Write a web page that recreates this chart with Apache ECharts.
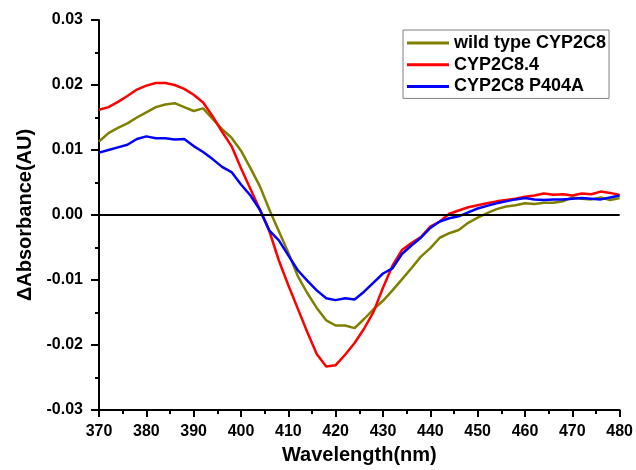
<!DOCTYPE html>
<html>
<head>
<meta charset="utf-8">
<script src="https://cdn.jsdelivr.net/npm/echarts@6/dist/echarts.min.js"></script>
<style>
html,body{margin:0;padding:0;background:#fff;}
#c{width:636px;height:470px;}
</style>
</head>
<body>
<div id="c"></div>
<script>
var wavelengths = [370,372,374,376,378,380,382,384,386,388,390,392,394,396,398,400,402,404,406,408,410,412,414,416,418,420,422,424,426,428,430,432,434,436,438,440,442,444,446,448,450,452,454,456,458,460,462,464,466,468,470,472,474,476,478,480];

var wildType = [0.0113,0.0126,0.0134,0.0141,0.0150,0.0158,0.0166,0.0170,0.0172,0.0166,0.0160,0.0164,0.0148,0.0132,0.0119,0.0099,0.0072,0.0044,0.0008,-0.0025,-0.0058,-0.0094,-0.0120,-0.0143,-0.0162,-0.0170,-0.0170,-0.0174,-0.0160,-0.0145,-0.0132,-0.0116,-0.0099,-0.0082,-0.0064,-0.0051,-0.0035,-0.0028,-0.0023,-0.0012,-0.0004,0.0003,0.0009,0.0013,0.0015,0.0018,0.0017,0.0019,0.0019,0.0021,0.0027,0.0025,0.0024,0.0027,0.0023,0.0026];

var cyp2c84 = [0.0162,0.0166,0.0174,0.0183,0.0193,0.0199,0.0203,0.0203,0.0200,0.0194,0.0185,0.0173,0.0152,0.0128,0.0106,0.0072,0.0040,0.0008,-0.0025,-0.0070,-0.0108,-0.0144,-0.0180,-0.0214,-0.0233,-0.0231,-0.0215,-0.0197,-0.0175,-0.0149,-0.0112,-0.0078,-0.0054,-0.0043,-0.0034,-0.0018,-0.0010,0.0002,0.0007,0.0012,0.0015,0.0018,0.0021,0.0023,0.0025,0.0028,0.0030,0.0033,0.0031,0.0032,0.0030,0.0033,0.0032,0.0036,0.0034,0.0031];

var p404a = [0.0096,0.0100,0.0104,0.0108,0.0117,0.0121,0.0118,0.0118,0.0116,0.0117,0.0106,0.0097,0.0086,0.0074,0.0066,0.0047,0.0030,0.0008,-0.0024,-0.0039,-0.0062,-0.0085,-0.0101,-0.0116,-0.0128,-0.0131,-0.0128,-0.0130,-0.0118,-0.0104,-0.0090,-0.0082,-0.0060,-0.0047,-0.0035,-0.0020,-0.0010,-0.0005,-0.0002,0.0004,0.0010,0.0014,0.0018,0.0021,0.0024,0.0026,0.0024,0.0023,0.0024,0.0024,0.0025,0.0026,0.0025,0.0024,0.0027,0.0030];

var seriesNames = ['wild type CYP2C8','CYP2C8.4','CYP2C8 P404A'];
var seriesColors = ['#808000','#ff0000','#0000ff'];
var xTitle = 'Wavelength(nm)';
var yTitle = '\u0394Absorbance(AU)';

function pairs(ys){ return wavelengths.map(function(x,i){ return [x, ys[i]]; }); }

var FONT = "'Liberation Sans', Arial, sans-serif";
var chart = echarts.init(document.getElementById('c'), null, {renderer:'canvas'});
var axisCommon = {
  axisLine:{show:true,onZero:false,lineStyle:{color:'#000',width:2}},
  splitLine:{show:false},
  minorTick:{show:true,splitNumber:2,length:4,lineStyle:{color:'#000',width:2}},
  nameLocation:'middle',
  nameTextStyle:{color:'#000',fontWeight:'bold',fontFamily:FONT,fontSize:20}
};
var dataSets = [wildType, cyp2c84, p404a];
var series = dataSets.map(function(d,i){
  var s = {
    name: seriesNames[i], type:'line', data: pairs(d), showSymbol:false, symbol:'none',
    smooth:false, lineStyle:{color:seriesColors[i],width:2.5}, itemStyle:{color:seriesColors[i]},
    animation:false, z: 2+i
  };
  return s;
});
series.push({
  type:'line', data:[], silent:true, animation:false, z:10,
  markLine:{silent:true,symbol:['none','none'],label:{show:false},
    lineStyle:{color:'#000',width:2,type:'solid'},
    data:[{yAxis:0}], animation:false}
});
chart.setOption({
  animation:false,
  backgroundColor:'#fff',
  grid:{left:99,right:13,top:20,bottom:60,containLabel:false},
  xAxis: Object.assign({}, axisCommon, {
    type:'value', min:370, max:480, interval:10,
    name:xTitle, nameGap:35,
    axisTick:{show:true,length:7,inside:false,lineStyle:{color:'#000',width:2}},
    axisLabel:{color:'#000',fontWeight:'bold',fontFamily:FONT,fontSize:16,margin:14}
  }),
  yAxis: Object.assign({}, axisCommon, {
    type:'value', min:-0.03, max:0.03, interval:0.01,
    name:yTitle, nameGap:62,
    axisTick:{show:true,length:8,inside:false,lineStyle:{color:'#000',width:2}},
    axisLabel:{color:'#000',fontWeight:'bold',fontFamily:FONT,fontSize:16,margin:16,
      formatter:function(v){ if(Math.abs(v)<1e-9) return '0.00'; return v.toFixed(2);} }
  }),
  legend:{
    show:true, orient:'vertical', left:403, top:30,
    data: seriesNames.map(function(n){return {name:n, icon:'rect'};}),
    itemWidth:42, itemHeight:3, itemGap:3.7, itemTextGap:5,
    padding:[4,3,3,4],
    borderColor:'#808080', borderWidth:1, backgroundColor:'#fff',
    textStyle:{color:'#000',fontWeight:'bold',fontFamily:FONT,fontSize:18,lineHeight:18}
  },
  series: series
});
</script>
</body>
</html>
